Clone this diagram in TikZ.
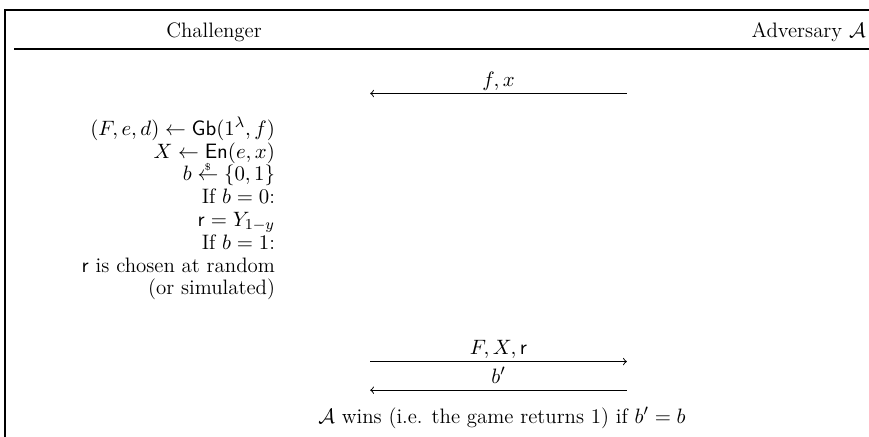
\documentclass[tikz,border=0pt]{standalone}
\usepackage{amsmath}
\usepackage{amssymb}
\usepackage{xcolor}
\definecolor{gameink}{HTML}{000000}
\newcommand{\msgrow}[4]{%
  \coordinate (#1l) at (6.85,#2);
  \coordinate (#1r) at (11.6,#2);
  \draw[gameink, line width=0.5pt, #3] (#1l) -- node[above, text depth=2.5pt] {#4} (#1r);
}
\newcommand{\sampleto}{\mathrel{\smash{\overset{\raisebox{-2.5pt}{$\scriptscriptstyle\$$}}{\leftarrow}}}}

\begin{document}
\begin{tikzpicture}[x=1cm, y=1cm, every node/.style={font=\fontsize{11}{12}\selectfont, text=gameink, inner sep=1pt}]

  \useasboundingbox (0,0) rectangle (16.08,-8.08);

  \draw[gameink, line width=0.7pt] (0.09,-8.08) -- (0.09,-0.185) -- (16.08,-0.185);
  \draw[gameink, line width=0.6pt] (0.26,-0.906) -- (16.08,-0.906);

  \node (chal) at (3.96,-0.60) {Challenger};
  \node[anchor=east] (adv) at (16.06,-0.60) {Adversary $\mathcal{A}$};

  \msgrow{fx}{-1.73}{<-}{$f, x$}

  \node[anchor=east, align=right] (steps) at (5.13,-3.86) {%
    $(F, e, d) \leftarrow \mathsf{Gb}(1^\lambda, f)$\\
    $X \leftarrow \mathsf{En}(e, x)$\\
    $b \sampleto \{0, 1\}$\\
    If $b = 0$:\\
    $\mathsf{r} = Y_{1-y}$\\
    If $b = 1$:\\
    $\mathsf{r}$ is chosen at random\\
    (or simulated)};

  \msgrow{fxr}{-6.69}{->}{$F, X, \mathsf{r}$}
  \msgrow{bp}{-7.22}{<-}{$b'$}

  \node (win) at (9.29,-7.73) {$\mathcal{A}$ wins (i.e. the game returns 1) if $b' = b$};

\end{tikzpicture}
\end{document}
